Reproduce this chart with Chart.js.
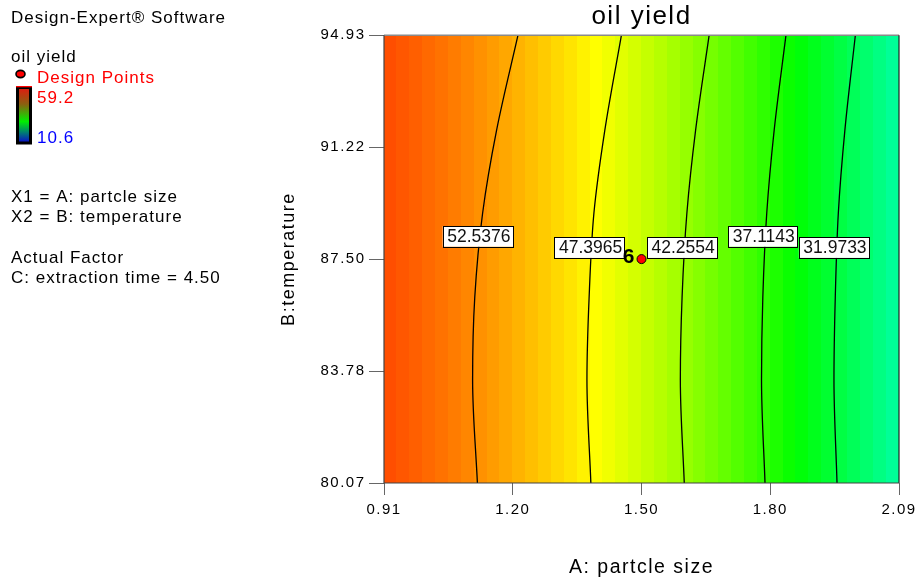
<!DOCTYPE html>
<html>
<head>
<meta charset="utf-8">
<script src="https://cdn.jsdelivr.net/npm/chart.js@4.4.1/dist/chart.umd.min.js"></script>
<style>
  html, body { margin: 0; padding: 0; background: #fff; }
  #wrap { width: 917px; height: 583px; position: relative; }
</style>
</head>
<body>
<div id="wrap"><canvas id="c"></canvas></div>
<script>
const FONT = "'Liberation Sans', Arial, Helvetica, sans-serif";

// Axis ticks
const xTickValues = [0.91, 1.205, 1.50, 1.795, 2.09];
const xTickLabels = ['0.91', '1.20', '1.50', '1.80', '2.09'];
const yTickValues = [80.07, 83.785, 87.50, 91.215, 94.93];
const yTickLabels = ['80.07', '83.78', '87.50', '91.22', '94.93'];

// Colour key range of oil yield
const yieldRange = [10.6, 59.2];

// Contour levels and their paths: particle size at each temperature
const contourLevels = [52.5376, 47.3965, 42.2554, 37.1143, 31.9733];
const contourTemps = [94.93, 91.78, 89.03, 86.24, 83.49, 80.07];
const contour1 = [1.217, 1.168, 1.136, 1.118, 1.113, 1.124];
const contour2 = [1.454, 1.416, 1.391, 1.380, 1.375, 1.384];
const contour3 = [1.655, 1.624, 1.604, 1.593, 1.589, 1.598];
const contour4 = [1.831, 1.804, 1.787, 1.778, 1.775, 1.783];
const contour5 = [1.990, 1.966, 1.951, 1.944, 1.941, 1.948];
const contourPaths = [contour1, contour2, contour3, contour4, contour5];

// Where each contour value is printed
const labelX = [1.125, 1.381, 1.593, 1.778, 1.941];
const labelY = [88.25, 87.88, 87.88, 88.25, 87.88];

// Shaded oil yield, one value per column from 0.91 to 2.09
const columnYield = [
  55.48, 55.07, 54.65, 54.21, 53.75, 53.28, 52.80, 52.29, 51.77, 51.24,
  50.69, 50.12, 49.53, 48.93, 48.32, 47.69, 47.04, 46.37, 45.69, 45.00,
  44.28, 43.55, 42.81, 42.05, 41.27, 40.48, 39.67, 38.84, 38.00, 37.15,
  36.27, 35.38, 34.48, 33.55, 32.62, 31.66, 30.69, 29.71, 28.70, 27.69
];

// Design point (centre point, replicated 6 times)
const designX = [1.50];
const designY = [87.50];
const designCount = ['6'];

// Side panel text
const sideLines = [
  { text: 'Design-Expert\u00AE Software', y: 23, x: 11, color: '#000' },
  { text: 'oil yield', y: 62, x: 11, color: '#000' },
  { text: 'Design Points', y: 82.5, x: 37, color: '#ff0000' },
  { text: '59.2', y: 102.5, x: 37, color: '#ff0000' },
  { text: '10.6', y: 142.5, x: 37, color: '#0000ff' },
  { text: 'X1 = A: partcle size', y: 202, x: 11, color: '#000' },
  { text: 'X2 = B: temperature', y: 221.5, x: 11, color: '#000' },
  { text: 'Actual Factor', y: 263, x: 11, color: '#000' },
  { text: 'C: extraction time = 4.50', y: 282.5, x: 11, color: '#000' }
];

// blue -> cyan -> green -> yellow -> red over the yield range
function yieldColour(v) {
  const stops = [[0, 0, 255], [0, 255, 255], [0, 255, 0], [255, 255, 0], [255, 0, 0]];
  let t = (v - yieldRange[0]) / (yieldRange[1] - yieldRange[0]);
  t = Math.max(0, Math.min(1, t)) * (stops.length - 1);
  const i = Math.min(stops.length - 2, Math.floor(t));
  const f = t - i;
  const c = stops[i].map((a, k) => Math.round(a + (stops[i + 1][k] - a) * f));
  return `rgb(${c[0]},${c[1]},${c[2]})`;
}

const spacing = {
  id: 'spacing',
  beforeUpdate(chart) { chart.ctx.letterSpacing = '1.5px'; },
  beforeLayout(chart) { chart.ctx.letterSpacing = '1.5px'; },
  beforeDraw(chart) { chart.ctx.letterSpacing = '1.5px'; }
};

const shading = {
  id: 'shading',
  beforeDatasetsDraw(chart) {
    const { ctx, chartArea, scales: { x, y } } = chart;
    const n = columnYield.length;
    const step = (x.max - x.min) / n;
    const top = y.getPixelForValue(y.max);
    const bottom = y.getPixelForValue(y.min);
    ctx.save();
    ctx.beginPath();
    ctx.rect(chartArea.left, chartArea.top, chartArea.width, chartArea.height);
    ctx.clip();
    for (let i = 0; i < n; i++) {
      const x0 = x.getPixelForValue(x.min + i * step);
      const x1 = x.getPixelForValue(x.min + (i + 1) * step);
      ctx.fillStyle = yieldColour(columnYield[i]);
      ctx.fillRect(Math.floor(x0), top, Math.ceil(x1) - Math.floor(x0) + 1, bottom - top);
    }
    ctx.restore();
  }
};

const annotations = {
  id: 'annotations',
  afterDatasetsDraw(chart) {
    const { ctx, chartArea: a, scales: { x, y } } = chart;
    ctx.save();
    ctx.letterSpacing = '0px';
    // plot frame
    ctx.lineWidth = 1.5;
    ctx.strokeStyle = '#8a8a8a';
    ctx.beginPath(); ctx.moveTo(a.left, a.top); ctx.lineTo(a.right, a.top); ctx.stroke();
    ctx.lineWidth = 1.2;
    ctx.strokeStyle = '#222';
    ctx.beginPath(); ctx.moveTo(a.right, a.top); ctx.lineTo(a.right, a.bottom); ctx.stroke();
    ctx.strokeStyle = '#444';
    ctx.beginPath(); ctx.moveTo(a.left, a.top); ctx.lineTo(a.left, a.bottom); ctx.lineTo(a.right, a.bottom); ctx.stroke();

    // contour value boxes
    ctx.font = `17.5px ${FONT}`;
    ctx.textAlign = 'center';
    ctx.textBaseline = 'middle';
    contourLevels.forEach((lv, i) => {
      const txt = lv.toFixed(4);
      const px = x.getPixelForValue(labelX[i]);
      const py = y.getPixelForValue(labelY[i]);
      const w = ctx.measureText(txt).width + 7;
      const h = 20.5;
      ctx.fillStyle = '#fff';
      ctx.fillRect(px - w / 2, py - h / 2, w, h);
      ctx.lineWidth = 1;
      ctx.strokeStyle = '#000';
      ctx.strokeRect(Math.round(px - w / 2) + 0.5, Math.round(py - h / 2) + 0.5, Math.round(w), Math.round(h));
      ctx.fillStyle = '#111';
      ctx.fillText(txt, px + 1, py + 1);
    });

    // replicate count beside the design point
    ctx.font = `bold 21px ${FONT}`;
    ctx.fillStyle = '#000';
    designX.forEach((dx, i) => {
      ctx.fillText(designCount[i], x.getPixelForValue(dx) - 13, y.getPixelForValue(designY[i]) - 2);
    });
    ctx.restore();
  },
  afterDraw(chart) {
    const { ctx } = chart;
    ctx.save();
    ctx.letterSpacing = '1px';
    ctx.font = `17px ${FONT}`;
    ctx.textAlign = 'left';
    ctx.textBaseline = 'alphabetic';
    sideLines.forEach(l => {
      ctx.fillStyle = l.color;
      ctx.fillText(l.text, l.x, l.y);
    });
    // design point symbol
    ctx.beginPath();
    ctx.ellipse(20.5, 74, 4.5, 3.6, 0, 0, Math.PI * 2);
    ctx.fillStyle = '#ff0000';
    ctx.fill();
    ctx.lineWidth = 1.6;
    ctx.strokeStyle = '#000';
    ctx.stroke();
    // colour key bar
    const g = ctx.createLinearGradient(0, 88, 0, 142);
    g.addColorStop(0, '#e01a10');
    g.addColorStop(0.3, '#8a6010');
    g.addColorStop(0.62, '#00ee00');
    g.addColorStop(0.82, '#008070');
    g.addColorStop(1, '#0a10c8');
    ctx.fillStyle = '#000';
    ctx.fillRect(16, 86, 16, 58.5);
    ctx.fillStyle = g;
    ctx.fillRect(19, 89, 10, 52.5);
    ctx.fillStyle = '#ff0000';
    ctx.fillRect(16, 86, 16, 1.3);
    ctx.restore();
  }
};

const datasets = contourPaths.map((path, i) => ({
  label: contourLevels[i].toFixed(4),
  data: path.map((px, k) => ({ x: px, y: contourTemps[k] })),
  indexAxis: 'y',
  showLine: true,
  borderColor: '#000',
  borderWidth: 1.3,
  pointRadius: 0,
  cubicInterpolationMode: 'monotone',
  fill: false
}));
datasets.unshift({
  label: 'Design Points',
  data: designX.map((dx, i) => ({ x: dx, y: designY[i] })),
  showLine: false,
  pointRadius: 4.5,
  pointBackgroundColor: '#ff0000',
  pointBorderColor: '#000',
  pointBorderWidth: 1
});

new Chart(document.getElementById('c'), {
  type: 'scatter',
  data: { datasets },
  plugins: [spacing, shading, annotations],
  options: {
    responsive: true,
    maintainAspectRatio: false,
    animation: false,
    layout: { padding: { left: 274, right: 18, top: 0, bottom: 0 } },
    plugins: {
      legend: { display: false },
      tooltip: { enabled: false },
      title: {
        display: true,
        fullSize: false,
        text: 'oil yield',
        color: '#000',
        font: { family: FONT, size: 26, weight: 'normal' },
        padding: { top: 1, bottom: 3 }
      }
    },
    scales: {
      x: {
        type: 'linear',
        min: 0.91,
        max: 2.09,
        afterFit(scale) { scale.height = 100; scale.paddingLeft = 0; scale.paddingRight = 0; },
        afterBuildTicks(scale) { scale.ticks = xTickValues.map(v => ({ value: v })); },
        ticks: {
          callback: (v, i) => xTickLabels[i],
          color: '#000',
          font: { family: FONT, size: 15 },
          padding: 6,
          maxRotation: 0,
          autoSkip: false
        },
        grid: { drawOnChartArea: false, drawTicks: true, tickLength: 12, color: '#666', lineWidth: 1 },
        border: { display: false },
        title: {
          display: true,
          text: 'A: partcle size',
          color: '#000',
          font: { family: FONT, size: 19.5 },
          padding: { top: 4, bottom: 4 }
        }
      },
      y: {
        type: 'linear',
        min: 80.07,
        max: 94.93,
        afterFit(scale) { scale.width = 110; scale.paddingTop = 0; scale.paddingBottom = 0; },
        afterBuildTicks(scale) { scale.ticks = yTickValues.map(v => ({ value: v })); },
        ticks: {
          callback: (v, i) => yTickLabels[i],
          color: '#000',
          font: { family: FONT, size: 15 },
          padding: 3.5,
          autoSkip: false
        },
        grid: { drawOnChartArea: false, drawTicks: true, tickLength: 15, color: '#666', lineWidth: 1 },
        border: { display: false },
        title: {
          display: true,
          text: 'B:temperature',
          color: '#000',
          font: { family: FONT, size: 18 },
          padding: { top: 4, bottom: 4 }
        }
      }
    }
  }
});
</script>
</body>
</html>
